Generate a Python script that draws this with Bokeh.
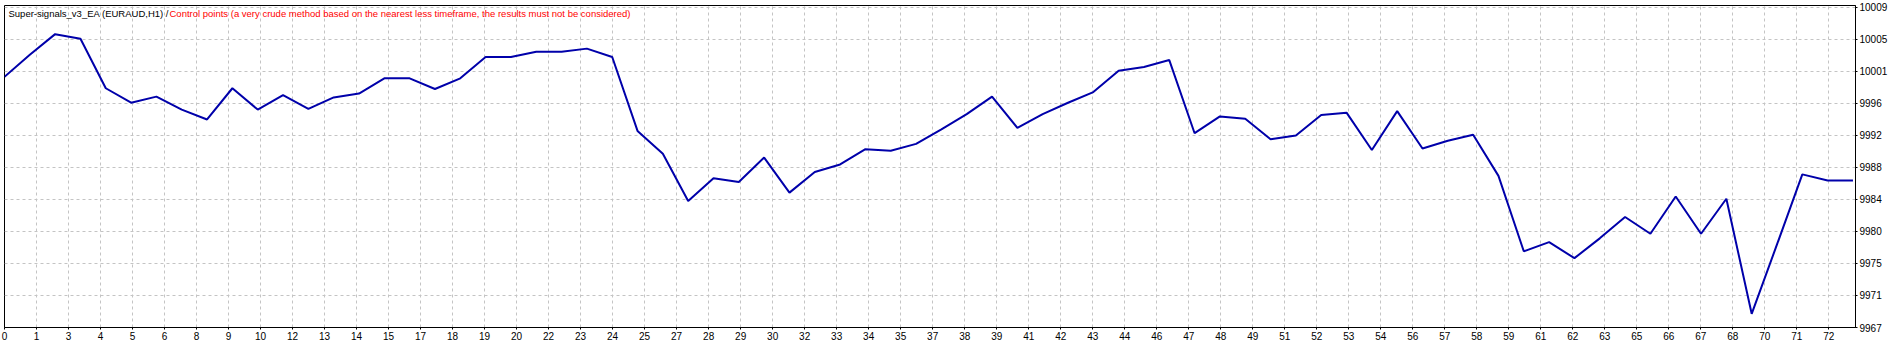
import numpy as np
from bokeh.plotting import figure
from bokeh.models import FixedTicker, Label, Range1d
from bokeh.embed import file_html
from bokeh.resources import INLINE

# ---- data ----
trade_numbers = list(range(74))
balance = [
    9999.9, 10002.8, 10005.5, 10004.9, 9998.4, 9996.5, 9997.3, 9995.6, 9994.3, 9998.4,
    9995.6, 9997.5, 9995.7, 9997.2, 9997.7, 9999.7, 9999.7, 9998.3, 9999.7, 10002.5,
    10002.5, 10003.2, 10003.2, 10003.6, 10002.5, 9992.8, 9989.8, 9983.6, 9986.6, 9986.1,
    9989.3, 9984.7, 9987.4, 9988.4, 9990.4, 9990.2, 9991.1, 9993.0, 9995.0, 9997.3,
    9993.2, 9995.0, 9996.5, 9997.9, 10000.7, 10001.2, 10002.1, 9992.5, 9994.7, 9994.4,
    9991.7, 9992.2, 9994.9, 9995.2, 9990.3, 9995.4, 9990.5, 9991.5, 9992.3, 9986.9,
    9977.0, 9978.2, 9976.1, 9978.7, 9981.5, 9979.3, 9984.2, 9979.3, 9983.9, 9968.8,
    9977.9, 9987.1, 9986.3, 9986.3,
]
x_tick_labels = [
    "0", "1", "3", "4", "5", "6", "8", "9", "10", "12", "13", "14", "15", "17", "18",
    "19", "20", "22", "23", "24", "25", "27", "28", "29", "30", "32", "33", "34", "35",
    "37", "38", "39", "41", "42", "43", "44", "46", "47", "48", "49", "51", "52", "53",
    "54", "56", "57", "58", "59", "61", "62", "63", "65", "66", "67", "68", "70", "71", "72",
]
y_tick_labels = ["9967", "9971", "9975", "9980", "9984", "9988", "9992", "9996",
                 "10001", "10005", "10009"]
title_black = "Super-signals_v3_EA (EURAUD,H1) /"
title_red = ("Control points (a very crude method based on the nearest less timeframe, "
             "the results must not be considered)")

# ---- scale settings ----
Y_MIN = 9967.0
Y_STEP = 4.2
Y_MAX = 10009.26
X_MAX = 73.1
X_GRID_STEP = 1.264

FRAME_W = 1851
FRAME_H = 322
FONT = "Liberation Sans"

p = figure(width=1900, height=344, output_backend="svg", toolbar_location=None,
           x_range=Range1d(0, X_MAX), y_range=Range1d(Y_MIN, Y_MAX),
           y_axis_location="right",
           min_border_left=4, min_border_top=5, min_border_right=45, min_border_bottom=17)

p.background_fill_color = "white"
p.border_fill_color = "white"
p.outline_line_color = "black"
p.outline_line_width = 1

xt = [round(k * X_GRID_STEP, 4) for k in range(len(x_tick_labels))]
yt = [round(Y_MIN + k * Y_STEP, 4) for k in range(len(y_tick_labels))]

p.xaxis.ticker = FixedTicker(ticks=xt)
p.xaxis.major_label_overrides = {t: lab for t, lab in zip(xt, x_tick_labels)}
p.yaxis.ticker = FixedTicker(ticks=yt)
p.yaxis.major_label_overrides = {t: lab for t, lab in zip(yt, y_tick_labels)}

for ax in (p.xaxis[0], p.yaxis[0]):
    ax.axis_line_color = "black"
    ax.axis_line_width = 1
    ax.major_tick_line_color = "black"
    ax.major_tick_in = 0
    ax.major_tick_out = 2
    ax.minor_tick_line_color = None
    ax.major_label_text_font = FONT
    ax.major_label_text_font_size = "10px"
    ax.major_label_text_color = "black"
    ax.major_label_standoff = 2

p.xgrid.grid_line_color = "#C4C4C4"
p.xgrid.grid_line_dash = "3 3"
p.ygrid.grid_line_color = "#C4C4C4"
p.ygrid.grid_line_dash = "3 3"

p.line(trade_numbers, balance, line_color="#0000AA", line_width=2)

px_per_unit_y = FRAME_H / (Y_MAX - Y_MIN)
px_per_unit_x = FRAME_W / X_MAX
title_y = Y_MAX - 8.3 / px_per_unit_y

p.add_layout(Label(x=4.0 / px_per_unit_x, y=title_y, text=title_black,
                   text_font=FONT, text_font_size="9.5px", text_color="black",
                   text_baseline="middle", text_align="left"))
p.add_layout(Label(x=165.0 / px_per_unit_x, y=title_y, text=title_red,
                   text_font=FONT, text_font_size="9.5px", text_color="#FF0000",
                   text_baseline="middle", text_align="left"))

open("out.html", "w").write(file_html(p, INLINE))
